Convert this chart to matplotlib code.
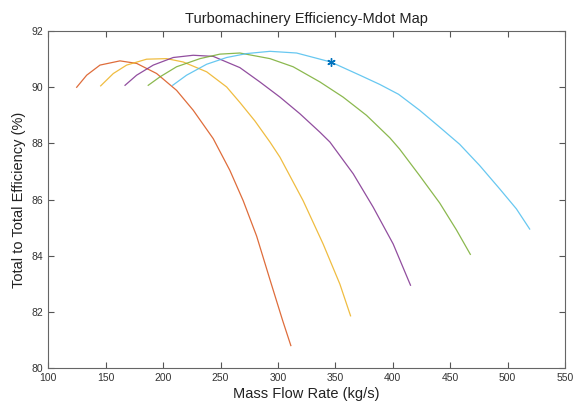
import matplotlib
matplotlib.use("Agg")
import matplotlib.pyplot as plt

plt.rcParams['font.family'] = ['Liberation Sans', 'DejaVu Sans']

title = "Turbomachinery Efficiency-Mdot Map"
xlabel = "Mass Flow Rate (kg/s)"
ylabel = "Total to Total Efficiency (%)"

red_m = [124.7, 133.4, 145.0, 162.4, 176.9, 194.3, 211.7, 226.2, 243.6, 258.1, 269.7, 281.4, 293.0, 304.0, 311.2]
red_e = [90.00, 90.43, 90.79, 90.94, 90.85, 90.49, 89.89, 89.18, 88.17, 87.04, 85.96, 84.70, 83.15, 81.70, 80.80]

yel_m = [145.6, 156.6, 168.2, 185.6, 203.0, 217.5, 237.9, 255.3, 267.0, 279.9, 293.0, 301.7, 321.9, 339.3, 353.9, 363.2]
yel_e = [90.05, 90.49, 90.79, 91.00, 91.02, 90.90, 90.55, 90.01, 89.45, 88.80, 88.05, 87.51, 85.96, 84.42, 82.99, 81.86]

pur_m = [166.8, 176.9, 191.4, 208.8, 226.2, 243.6, 266.8, 284.2, 301.7, 319.0, 336.5, 345.2, 365.5, 382.9, 400.3, 415.4]
pur_e = [90.07, 90.43, 90.79, 91.06, 91.14, 91.10, 90.70, 90.19, 89.65, 89.06, 88.40, 88.05, 86.92, 85.73, 84.42, 82.95]

grn_m = [187.0, 197.2, 211.7, 232.1, 249.4, 266.8, 293.0, 313.2, 336.5, 356.7, 377.1, 397.4, 405.9, 423.4, 440.8, 455.4, 467.5]
grn_e = [90.07, 90.37, 90.73, 91.02, 91.18, 91.22, 91.02, 90.73, 90.19, 89.65, 89.00, 88.20, 87.80, 86.85, 85.88, 84.92, 84.05]

cyn_m = [208.3, 220.4, 237.9, 255.3, 272.7, 293.0, 316.2, 346.0, 371.3, 388.7, 405.0, 423.4, 440.8, 458.2, 475.7, 493.1, 507.6, 519.2]
cyn_e = [90.07, 90.43, 90.82, 91.06, 91.20, 91.28, 91.22, 90.90, 90.43, 90.10, 89.75, 89.18, 88.58, 87.97, 87.21, 86.38, 85.67, 84.95]

star_m = [346.0]
star_e = [90.90]

xticks = [100, 150, 200, 250, 300, 350, 400, 450, 500, 550]
yticks = [80, 82, 84, 86, 88, 90, 92]

fig = plt.figure(figsize=(5.76, 4.04), dpi=100)
ax = fig.add_axes([0.0839, 0.089, 0.8971, 0.834])

series = [
    (red_m, red_e, (0.85, 0.325, 0.098)),
    (yel_m, yel_e, (0.929, 0.694, 0.125)),
    (pur_m, pur_e, (0.494, 0.184, 0.556)),
    (grn_m, grn_e, (0.466, 0.674, 0.188)),
    (cyn_m, cyn_e, (0.301, 0.745, 0.933)),
]
for m, e, c in series:
    ax.plot(m, e, color=c, lw=0.9, alpha=0.85, solid_joinstyle='round')

ax.plot(star_m, star_e, marker=(6, 2, 0), color=(0.0, 0.447, 0.741), ms=6, ls='none', mew=1.0)

ax.set_xlim(100, 550)
ax.set_ylim(80, 92)
ax.set_xticks(xticks)
ax.set_yticks(yticks)
ax.tick_params(direction='in', top=True, right=True, length=4, width=0.8,
               colors='#555555', labelsize=7.5, labelcolor='#333333')
for s in ax.spines.values():
    s.set_color('#666666')
    s.set_linewidth(0.8)

ax.set_title(title, fontsize=10.5, color='#222222', pad=6)
ax.set_xlabel(xlabel, fontsize=10.5, color='#222222', labelpad=3)
ax.set_ylabel(ylabel, fontsize=10.5, color='#222222', labelpad=4)

fig.savefig("out.png", dpi=100)
